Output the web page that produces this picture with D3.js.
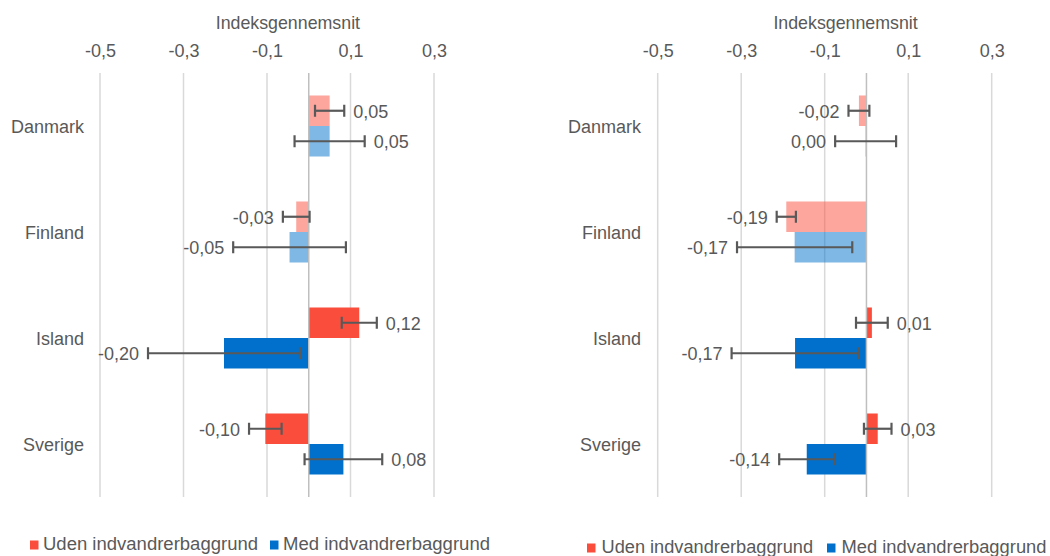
<!DOCTYPE html>
<html><head><meta charset="utf-8">
<script src="https://cdn.jsdelivr.net/npm/d3@7"></script>
<style>
html,body{margin:0;padding:0;background:#fff;}
svg{display:block;font-family:"Liberation Sans",Arial,sans-serif;}
</style></head>
<body><svg id="chart" width="1050" height="556"></svg>
<script>
// ---- data ----
const categories = ["Danmark", "Finland", "Island", "Sverige"];
const seriesNames = ["Uden indvandrerbaggrund", "Med indvandrerbaggrund"];
const tickValues = [-0.5, -0.3, -0.1, 0.1, 0.3];
const axisTitle = "Indeksgennemsnit";

const leftUden = [0.05, -0.03, 0.121, -0.104];
const leftMed = [0.05, -0.046, -0.203, 0.083];
const leftUdenErr = [0.035, 0.032, 0.042, 0.039];
const leftMedErr = [0.084, 0.135, 0.182, 0.093];

const rightUden = [-0.018, -0.192, 0.013, 0.027];
const rightMed = [-0.002, -0.172, -0.171, -0.143];
const rightUdenErr = [0.025, 0.023, 0.038, 0.033];
const rightMedErr = [0.073, 0.138, 0.152, 0.066];

// ---- styles ----
const colors = ["#FA4D3C", "#0070CC"];
const fadedCats = ["Danmark", "Finland"];
const textColor = "#595959";

const svg = d3.select("#chart");
const fmt = v => { let s = v.toFixed(2); if (s === "-0.00") s = "0.00"; return s.replace(".", ","); };
const fmtTick = v => v.toFixed(1).replace(".", ",");

function drawPanel(cfg) {
  const x = d3.scaleLinear().domain([-0.5, 0.4]).range([cfg.x0, cfg.x1]);
  const y = d3.scaleBand().domain(categories).range([73, 497]);
  const g = svg.append("g");
  const barH = 30.5;

  // gridlines
  g.selectAll(".grid").data(tickValues).enter().append("line")
    .attr("x1", d => x(d)).attr("x2", d => x(d))
    .attr("y1", 73).attr("y2", 497)
    .attr("stroke", "#D9D9D9").attr("stroke-width", 1.5);

  // tick labels via axis
  const ax = g.append("g").attr("transform", "translate(0,62)")
    .call(d3.axisTop(x).tickValues(tickValues).tickSize(0).tickPadding(0).tickFormat(fmtTick));
  ax.select(".domain").remove();
  ax.selectAll("text").attr("font-size", 18).attr("fill", textColor)
    .attr("font-family", "Liberation Sans, Arial, sans-serif").attr("dy", "-5.5");

  // title
  g.append("text").attr("x", (cfg.x0 + cfg.x1) / 2).attr("y", 28.5)
    .attr("text-anchor", "middle").attr("font-size", 17.8).attr("fill", textColor)
    .text(axisTitle);

  // category labels
  g.selectAll(".cat").data(categories).enter().append("text")
    .attr("x", cfg.catX).attr("y", d => y(d) + y.bandwidth() / 2 + 6.5)
    .attr("text-anchor", "end").attr("font-size", 18).attr("fill", textColor)
    .text(d => d);

  const series = [
    { vals: cfg.uden, errs: cfg.udenErr, color: colors[0], off: -barH },
    { vals: cfg.med, errs: cfg.medErr, color: colors[1], off: 0 }
  ];

  series.forEach(s => {
    categories.forEach((c, i) => {
      const v = s.vals[i];
      const yc = y(c) + y.bandwidth() / 2 + s.off;
      g.append("rect")
        .attr("x", Math.min(x(0), x(v))).attr("width", Math.max(0.8, Math.abs(x(v) - x(0))))
        .attr("y", yc).attr("height", barH)
        .attr("fill", s.color).attr("fill-opacity", fadedCats.includes(c) ? 0.5 : 1);
    });
  });

  // zero axis line
  g.append("line").attr("x1", x(0)).attr("x2", x(0)).attr("y1", 73).attr("y2", 497)
    .attr("stroke", "#BFBFBF").attr("stroke-width", 1.5);

  series.forEach(s => {
    categories.forEach((c, i) => {
      const v = s.vals[i], e = s.errs[i];
      const ym = y(c) + y.bandwidth() / 2 + s.off + barH / 2;
      const lo = x(v - e), hi = x(v + e);
      g.append("line").attr("x1", lo).attr("x2", hi).attr("y1", ym).attr("y2", ym)
        .attr("stroke", "#595959").attr("stroke-width", 2.2);
      [lo, hi].forEach(px => g.append("line").attr("x1", px).attr("x2", px)
        .attr("y1", ym - 6).attr("y2", ym + 6)
        .attr("stroke", "#595959").attr("stroke-width", 2.2));
      const neg = v < 0;
      g.append("text")
        .attr("x", neg ? lo - 9 : hi + 9).attr("y", ym + 7)
        .attr("text-anchor", neg ? "end" : "start")
        .attr("font-size", 18).attr("fill", textColor).text(fmt(v));
    });
  });

  // legend
  const lg = g.append("g");
  cfg.legend.forEach((L, k) => {
    lg.append("rect").attr("x", L.mx).attr("y", cfg.legY - 9.5).attr("width", 8.5).attr("height", 9)
      .attr("fill", colors[k]);
    lg.append("text").attr("x", L.tx).attr("y", cfg.legY).attr("font-size", 17.5)
      .attr("fill", textColor).attr("textLength", L.tw).attr("lengthAdjust", "spacingAndGlyphs")
      .text(seriesNames[k]);
  });
}

drawPanel({
  x0: 100, x1: 475.75, catX: 84,
  uden: leftUden, med: leftMed, udenErr: leftUdenErr, medErr: leftMedErr,
  legY: 550, legend: [{ mx: 30, tx: 43, tw: 215 }, { mx: 270, tx: 283, tw: 207 }]
});
drawPanel({
  x0: 657.7, x1: 1033.45, catX: 641,
  uden: rightUden, med: rightMed, udenErr: rightUdenErr, medErr: rightMedErr,
  legY: 553, legend: [{ mx: 587, tx: 601.5, tw: 211.5 }, { mx: 827, tx: 841.5, tw: 205 }]
});
</script></body></html>
